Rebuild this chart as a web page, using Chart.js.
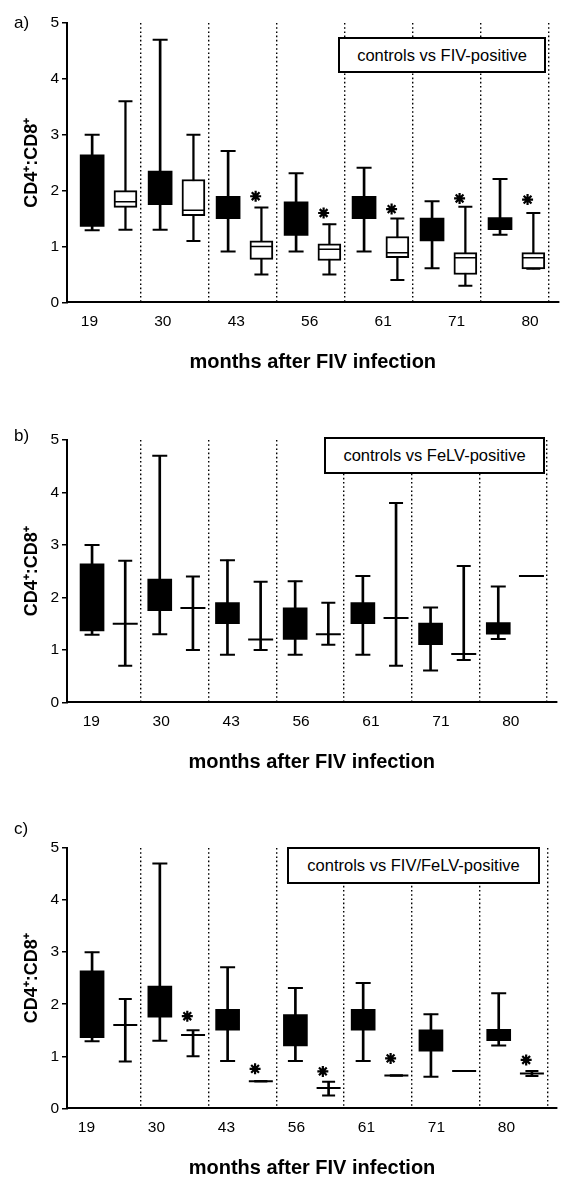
<!DOCTYPE html>
<html>
<head>
<meta charset="utf-8">
<script src="https://cdn.jsdelivr.net/npm/chart.js@4.4.1/dist/chart.umd.min.js"></script>
<style>
  body { margin: 0; background: #fff; width: 571px; height: 1179px; position: relative; overflow: hidden;
         font-family: "Liberation Sans", Arial, sans-serif; color: #000; }
  canvas { position: absolute; left: 0; }
  .tag { position: absolute; font-size: 17px; }
  .key { position: absolute; box-sizing: border-box; border: 2px solid #000; background: #fff;
         display: flex; align-items: center; justify-content: center; font-size: 16.5px; }
</style>
</head>
<body>
<canvas id="chartA" width="571" height="380" style="top:0"></canvas>
<canvas id="chartB" width="571" height="400" style="top:380px"></canvas>
<canvas id="chartC" width="571" height="405" style="top:775px"></canvas>

<div class="tag" style="left:14px; top:13px">a)</div>
<div class="tag" style="left:14px; top:426px">b)</div>
<div class="tag" style="left:14px; top:819px">c)</div>

<div class="key" style="left:338px; top:37px; width:208px; height:36px">controls vs FIV-positive</div>
<div class="key" style="left:324px; top:437px; width:221px; height:37px">controls vs FeLV-positive</div>
<div class="key" style="left:287px; top:847px; width:253px; height:37px">controls vs FIV/FeLV-positive</div>

<script>
    const months = ['19', '30', '43', '56', '61', '71', '80'];

    // controls (same cats in all three panels)
    const ctrlMin = [1.29, 1.3, 0.91, 0.91, 0.91, 0.61, 1.21];
    const ctrlQ1 = [1.36, 1.75, 1.5, 1.2, 1.5, 1.1, 1.3];
    const ctrlQ3 = [2.64, 2.35, 1.9, 1.8, 1.9, 1.51, 1.52];
    const ctrlMax = [3.0, 4.7, 2.71, 2.31, 2.41, 1.81, 2.21];

    // a) FIV-positive
    const fivMin = [1.3, 1.1, 0.5, 0.5, 0.4, 0.3, 0.6];
    const fivQ1 = [1.7, 1.55, 0.77, 0.75, 0.8, 0.5, 0.6];
    const fivMed = [1.8, 1.65, 1.0, 0.95, 0.89, 0.8, 0.8];
    const fivQ3 = [2.0, 2.2, 1.1, 1.05, 1.18, 0.89, 0.89];
    const fivMax = [3.6, 3.0, 1.7, 1.4, 1.5, 1.71, 1.6];
    const fivSig = [null, null, 1.9, 1.6, 1.67, 1.86, 1.84];

    // b) FeLV-positive (no boxes, too few cats)
    const felvMin = [0.7, 1.0, 1.0, 1.1, 0.7, 0.81, 2.41];
    const felvMed = [1.5, 1.8, 1.2, 1.3, 1.61, 0.92, 2.41];
    const felvMax = [2.7, 2.4, 2.3, 1.9, 3.8, 2.6, 2.41];
    const felvSig = [null, null, null, null, null, null, null];

    // c) FIV/FeLV-positive
    const bothMin = [0.9, 1.0, 0.52, 0.25, 0.63, 0.72, 0.62];
    const bothMed = [1.6, 1.41, 0.52, 0.39, 0.63, 0.72, 0.67];
    const bothMax = [2.1, 1.5, 0.52, 0.51, 0.63, 0.72, 0.72];
    const bothSig = [null, 1.77, 0.76, 0.71, 0.96, null, 0.93];

    Chart.defaults.font.family = '"Liberation Sans", Arial, sans-serif';
    Chart.defaults.color = '#000';

    var CTRL = -0.22;   // control box left of group centre
    var POS = 0.27;     // positive box right of it

    function pts(vals, off) {
        return vals.map(function (v, i) { return { x: i + off, y: v }; })
                   .filter(function (p) { return p.y !== null; });
    }
    function spans(lo, hi, off) {
        return lo.map(function (v, i) { return { x: i + off, y: [v, hi[i]] }; });
    }
    function bar(data, thick, fill, border, order) {
        return {
            type: 'bar', data: data, xAxisID: 'x', yAxisID: 'y',
            backgroundColor: fill, borderColor: '#000', borderWidth: border, borderSkipped: false,
            barThickness: thick, grouped: false, order: order
        };
    }
    function marks(data, style, radius, width, order) {
        return {
            type: 'scatter', data: data, xAxisID: 'x', yAxisID: 'y', showLine: false,
            pointStyle: style, pointRadius: radius, pointHoverRadius: radius,
            pointBorderWidth: width, pointBorderColor: '#000', pointBackgroundColor: '#000', order: order
        };
    }

    function createPanel(id, pos, opt) {
        var ds = [];
        ds.push(bar(spans(ctrlMin, ctrlMax, CTRL), 2, '#000', 0, 5));
        ds.push(bar(spans(pos.min, pos.max, POS), opt.whisker, '#000', 0, 5));
        ds.push(bar(spans(ctrlQ1, ctrlQ3, CTRL), 24, '#000', 0, 4));
        if (pos.q1) {
            ds.push(bar(spans(pos.q1, pos.q3, POS), 23, '#fff', 2, 4));
        }
        ds.push(marks(pts(ctrlMin, CTRL).concat(pts(ctrlMax, CTRL)), 'line', 7.5, 2, 3));
        ds.push(marks(pts(pos.min, POS).concat(pts(pos.max, POS)), 'line', opt.cap, 2, 3));
        ds.push(marks(pts(pos.med, POS), 'line', opt.med, opt.medWidth, 2));
        ds.push(marks(pts(pos.sig, POS - 0.085), 'star', 5.5, 2.2, 1));

        var lmin = -(opt.labelStart - 67) / opt.labelStep;

        var ctx = document.getElementById(id).getContext('2d');
        var chart = new Chart(ctx, {
            type: 'bar',
            data: { datasets: ds },
            options: {
                responsive: false,
                animation: false,
                events: [],
                layout: { padding: { top: opt.top, bottom: opt.bottom, left: 0, right: 0 } },
                plugins: { legend: { display: false }, tooltip: { enabled: false } },
                scales: {
                    x: {
                        type: 'linear', position: 'bottom', min: -0.59, max: 6.64, offset: false,
                        afterBuildTicks: function (s) {
                            s.ticks = months.map(function (m, i) { return { value: i + 0.5 }; });
                        },
                        ticks: { display: false },
                        grid: { color: '#000', lineWidth: 1.4, drawTicks: false, offset: false },
                        border: { display: true, color: '#000', width: 2, dash: [1.6, 2.6] }
                    },
                    xt: {
                        type: 'linear', position: 'bottom', min: lmin, max: lmin + 504 / opt.labelStep, offset: false,
                        afterBuildTicks: function (s) {
                            s.ticks = months.map(function (m, i) { return { value: i }; });
                        },
                        ticks: {
                            callback: function (v, i) { return months[i]; },
                            font: { size: 15.5 }, padding: 10, maxRotation: 0, autoSkip: false
                        },
                        grid: { display: false, drawTicks: false, offset: false },
                        border: { display: false },
                        title: {
                            display: true, text: 'months after FIV infection',
                            font: { size: 20, weight: 'bold' }, padding: { top: 9, bottom: 0 }
                        }
                    },
                    y: {
                        min: 0, max: 5,
                        afterFit: function (s) { s.width = 67; },
                        ticks: { stepSize: 1, font: { size: 15.5 }, padding: 3 },
                        grid: { drawOnChartArea: false, drawTicks: true, tickLength: 5, color: '#000', lineWidth: 1.5 },
                        border: { display: true, color: '#000', width: 2 },
                        title: {
                            display: true, text: 'CD4\u207A:CD8\u207A',
                            font: { size: 18, weight: 'bold' }, padding: { top: 21, bottom: 0 }
                        }
                    }
                }
            }
        });
    }

    createPanel('chartA',
        { min: fivMin, q1: fivQ1, med: fivMed, q3: fivQ3, max: fivMax, sig: fivSig },
        { top: 23, bottom: 6, whisker: 1.6, cap: 7, med: 11, medWidth: 1.5, labelStart: 90, labelStep: 75.3 });

    createPanel('chartB',
        { min: felvMin, med: felvMed, max: felvMax, sig: felvSig },
        { top: 60, bottom: 6, whisker: 2, cap: 7, med: 12.5, medWidth: 2, labelStart: 92, labelStep: 72 });

    createPanel('chartC',
        { min: bothMin, med: bothMed, max: bothMax, sig: bothSig },
        { top: 73, bottom: 0, whisker: 2, cap: 6.5, med: 12, medWidth: 2, labelStart: 87, labelStep: 72 });
</script>
</body>
</html>
